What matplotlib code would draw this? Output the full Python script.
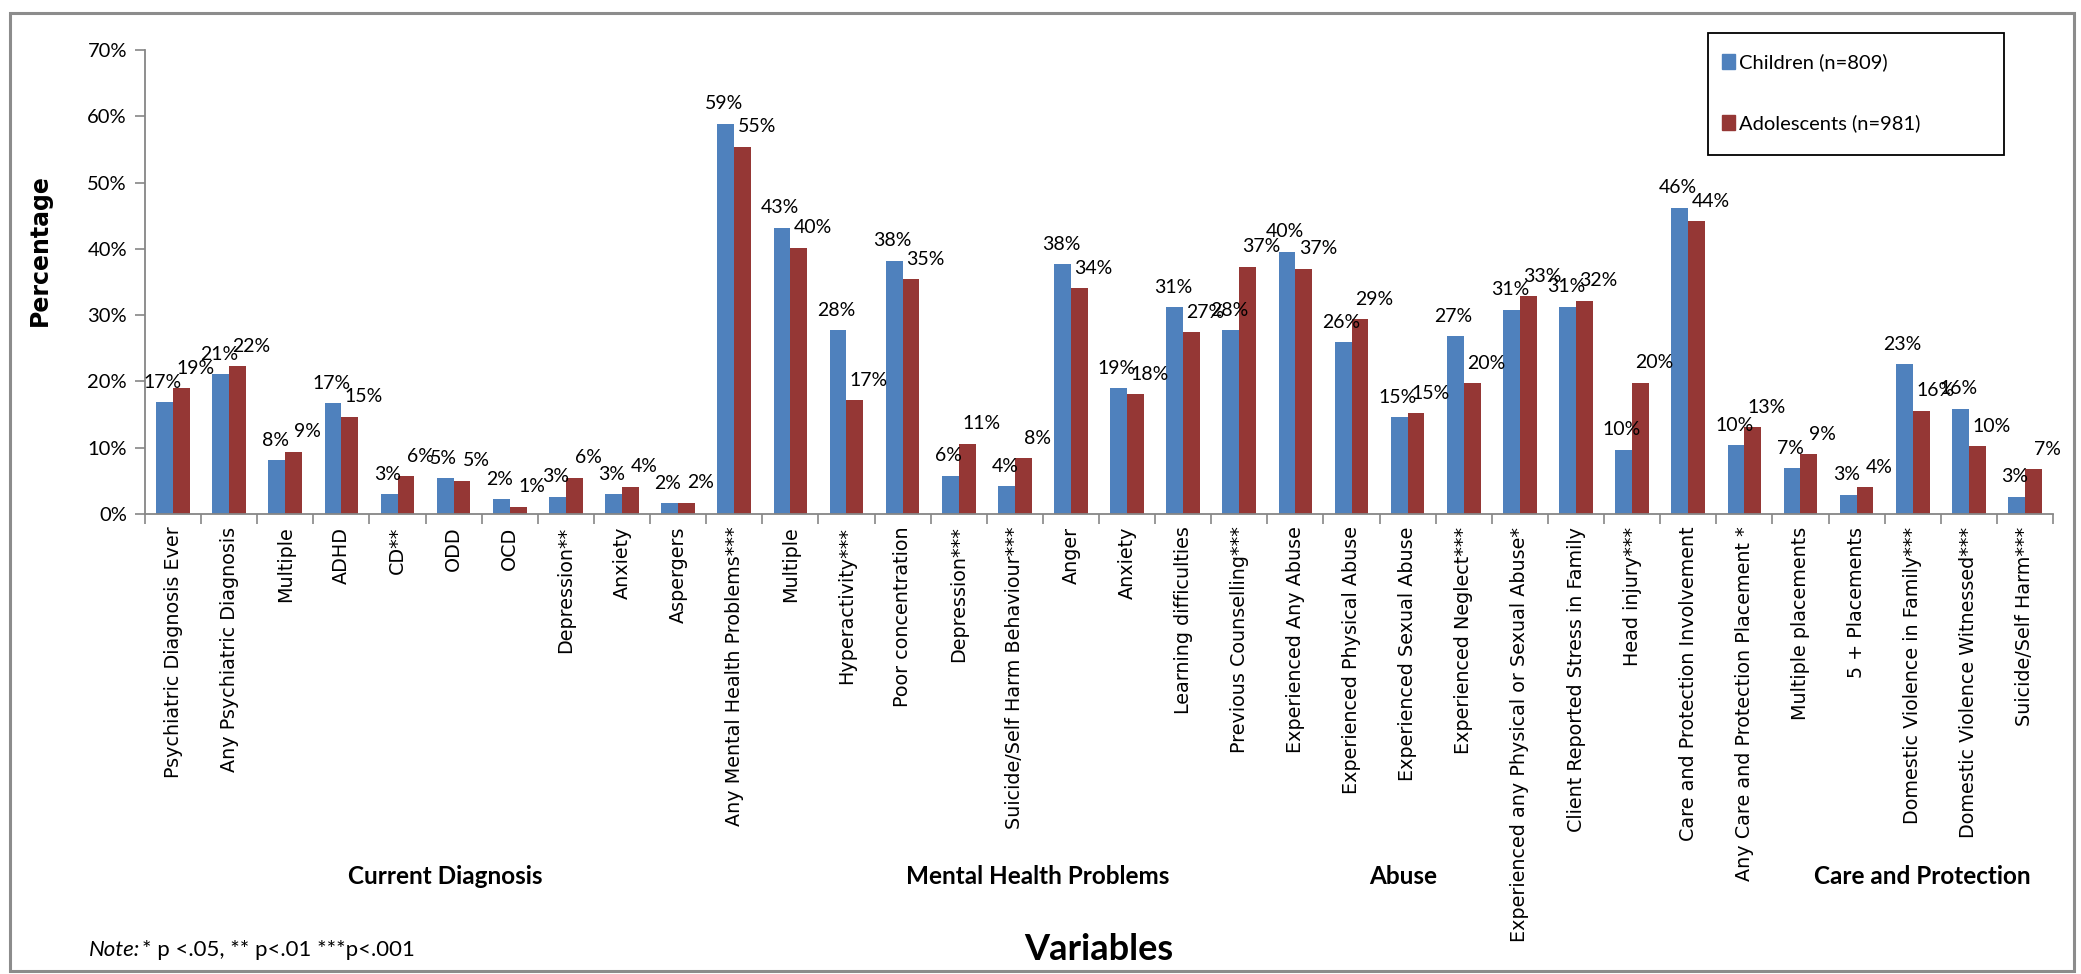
import matplotlib
matplotlib.use("Agg")
import matplotlib.pyplot as plt
from matplotlib.patches import Rectangle

# ---- data -------------------------------------------------------------
categories = [
    "Psychiatric Diagnosis Ever", "Any Psychiatric Diagnosis", "Multiple", "ADHD",
    "CD**", "ODD", "OCD", "Depression**", "Anxiety", "Aspergers",
    "Any Mental Health Problems***", "Multiple", "Hyperactivity***",
    "Poor concentration", "Depression***", "Suicide/Self Harm Behaviour***",
    "Anger", "Anxiety", "Learning difficulties", "Previous Counselling***",
    "Experienced Any Abuse", "Experienced Physical Abuse",
    "Experienced Sexual Abuse", "Experienced Neglect***",
    "Experienced any Physical or Sexual Abuse*", "Client Reported Stress in Family",
    "Head injury***", "Care and Protection Involvement",
    "Any Care and Protection Placement *", "Multiple placements", "5 + Placements",
    "Domestic Violence in Family***", "Domestic Violence Witnessed***",
    "Suicide/Self Harm***",
]
children = [16.9, 21.1, 8.1, 16.7, 3.0, 5.4, 2.2, 2.6, 3.0, 1.6,
            58.9, 43.2, 27.7, 38.2, 5.8, 4.2, 37.7, 19.0, 31.2, 27.7,
            39.6, 25.9, 14.6, 26.8, 30.8, 31.3, 9.7,
            46.2, 10.4, 6.9, 2.9, 22.6, 15.9, 2.6]
adolescents = [19.0, 22.3, 9.4, 14.7, 5.7, 5.0, 1.1, 5.5, 4.1, 1.7,
               55.4, 40.2, 17.2, 35.4, 10.6, 8.4, 34.1, 18.1, 27.4, 37.3,
               37.0, 29.4, 15.2, 19.7, 32.9, 32.2, 19.8,
               44.2, 13.1, 9.0, 4.0, 15.6, 10.2, 6.8]
series_names = ["Children (n=809)", "Adolescents (n=981)"]
group_names = ["Current Diagnosis", "Mental Health Problems", "Abuse", "Care and Protection"]
y_ticks = [0, 10, 20, 30, 40, 50, 60, 70]

# ---- style ------------------------------------------------------------
BLUE = "#4F81BD"
RED = "#953735"
AXIS_GREY = "#868686"
LABEL_FONT = ["Lato", "DejaVu Sans"]
TICK_FONT = ["DejaVu Sans"]

W, H = 2081, 974
fig = plt.figure(figsize=(W / 100, H / 100), dpi=100)
fig.patch.set_facecolor("white")

# outer frame of the chart area
fig.patches.append(Rectangle((10 / W, 3 / H), 2064 / W, 958 / H,
                             transform=fig.transFigure, fill=False,
                             edgecolor="#8C8C8C", linewidth=2.2))

ax = fig.add_axes([145 / W, 1 - 514 / H, (2053 - 145) / W, (514 - 50) / H])

n = len(categories)
x = list(range(n))
bw = 0.30
ax.bar([i - bw / 2 for i in x], children, width=bw, color=BLUE, label=series_names[0])
ax.bar([i + bw / 2 for i in x], adolescents, width=bw, color=RED, label=series_names[1])

# value labels
for i in x:
    ax.text(i - bw / 2 - 0.03, children[i] + 3.0, f"{children[i]:.0f}%",
            ha="center", va="center", fontsize=14, family=LABEL_FONT)
    ax.text(i + bw / 2 + 0.25, adolescents[i] + 3.0, f"{adolescents[i]:.0f}%",
            ha="center", va="center", fontsize=14, family=LABEL_FONT)

ax.set_xlim(-0.5, n - 0.5)
ax.set_ylim(0, 70)
ax.set_yticks(y_ticks)
ax.set_yticklabels([f"{v}%" for v in y_ticks], family=LABEL_FONT, fontsize=14.5)
ax.set_xticks(x)
ax.set_xticklabels(categories, rotation=90, family=TICK_FONT, fontsize=13.8,
                   va="top", ha="center")
ax.set_xticks([i - 0.5 for i in range(n + 1)], minor=True)
ax.tick_params(axis="x", which="major", length=0, pad=9)
ax.tick_params(axis="x", which="minor", length=7, color=AXIS_GREY, width=1.2, direction="out")
ax.tick_params(axis="y", length=7, color=AXIS_GREY, width=1.2, direction="out", pad=6)
for side in ("top", "right"):
    ax.spines[side].set_visible(False)
for side in ("left", "bottom"):
    ax.spines[side].set_color(AXIS_GREY)
    ax.spines[side].set_linewidth(1.3)
ax.set_facecolor("none")

# axis titles
fig.text(40 / W, 1 - 250 / H, "Percentage", rotation=90, ha="center", va="center",
         fontsize=17, fontweight="bold", family=["DejaVu Sans"])
fig.text(1099 / W, 1 - 949 / H, "Variables", ha="center", va="center",
         fontsize=26, fontweight="bold", family=LABEL_FONT)

# group captions
group_x = [445, 1038, 1403, 1922]
for gx, name in zip(group_x, group_names):
    fig.text(gx / W, 1 - 876 / H, name, ha="center", va="center",
             fontsize=17.5, fontweight="bold", family=LABEL_FONT)

# significance note
note = fig.text(89 / W, 1 - 950 / H, "Note:", ha="left", va="center",
                fontsize=16, style="italic", family=LABEL_FONT)
ax.annotate("* p <.05, ** p<.01 ***p<.001", xy=(1, 0.5), xycoords=note,
            xytext=(1, 0), textcoords="offset points", ha="left", va="center",
            fontsize=16, family=LABEL_FONT, annotation_clip=False)

# legend box
lx0, lx1, ly0, ly1 = 1708, 2004, 33, 155
fig.patches.append(Rectangle((lx0 / W, 1 - ly1 / H), (lx1 - lx0) / W, (ly1 - ly0) / H,
                             transform=fig.transFigure, fill=False,
                             edgecolor="black", linewidth=1.3))
for yc, col, name in [(62, BLUE, series_names[0]), (123, RED, series_names[1])]:
    fig.patches.append(Rectangle((1722 / W, 1 - (yc + 7) / H), 13 / W, 15 / H,
                                 transform=fig.transFigure, color=col))
    fig.text(1739 / W, 1 - yc / H, name, ha="left", va="center",
             fontsize=14.5, family=LABEL_FONT)

fig.savefig("out.png", dpi=100, facecolor="white")
